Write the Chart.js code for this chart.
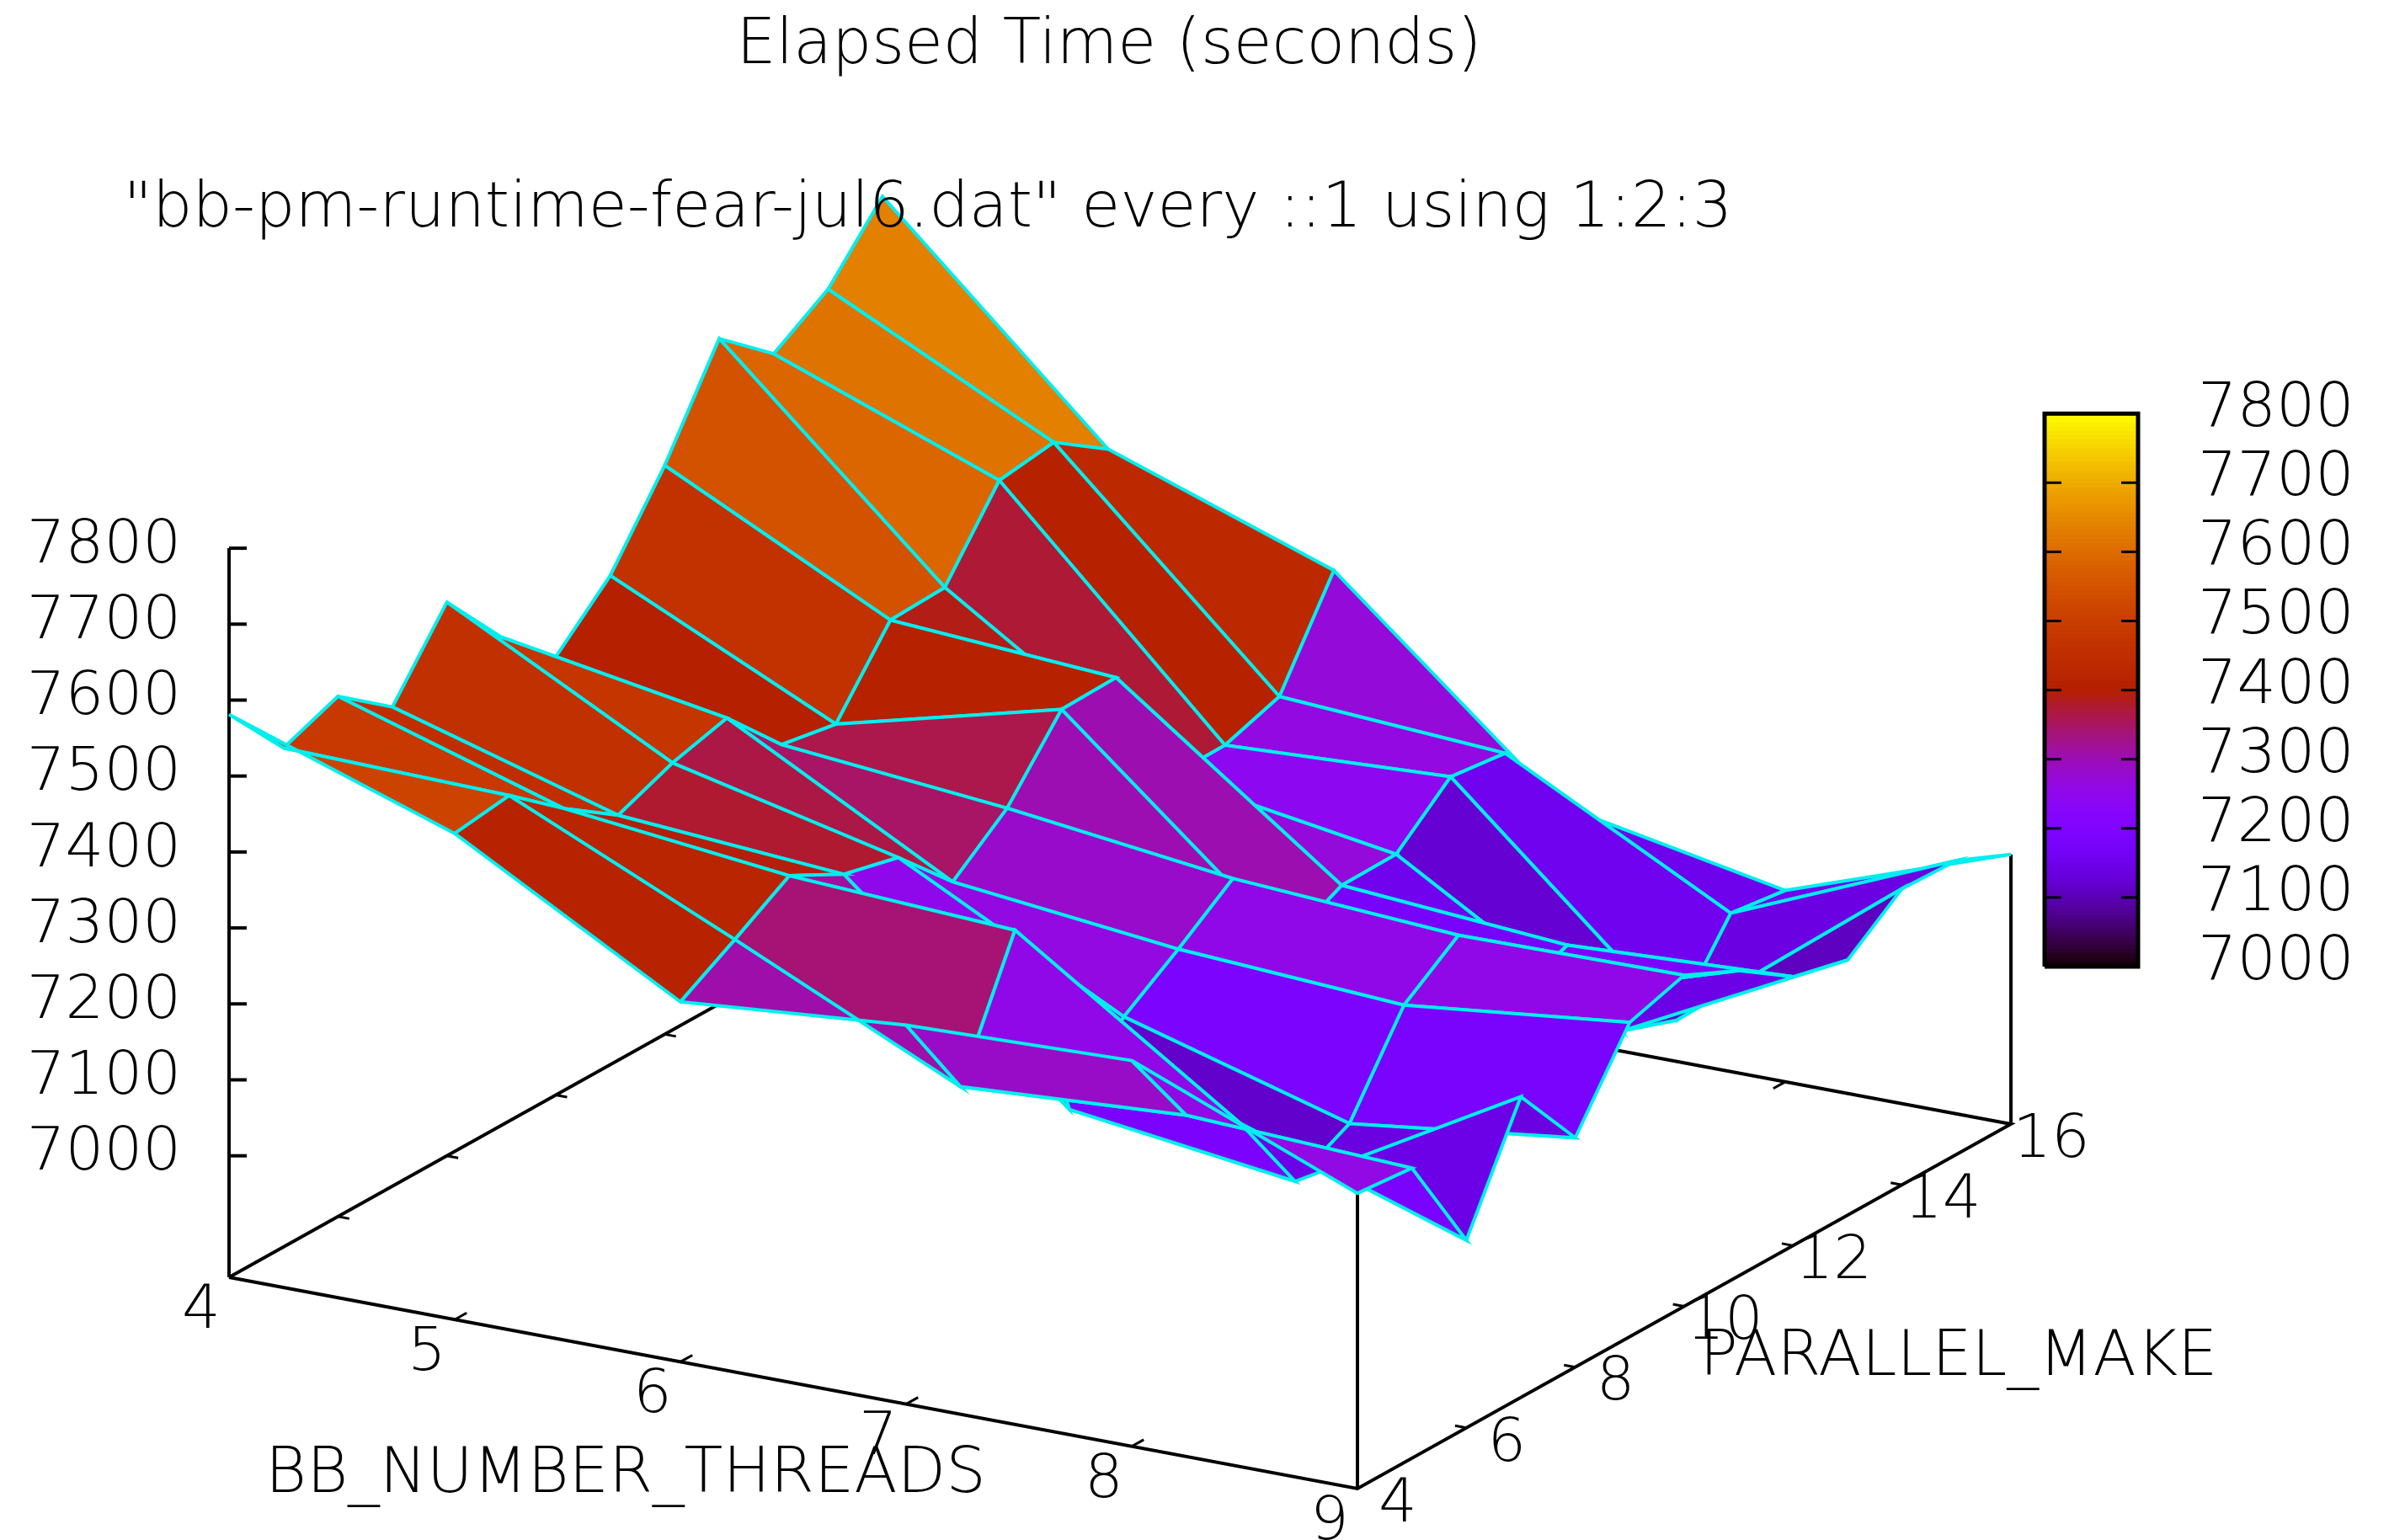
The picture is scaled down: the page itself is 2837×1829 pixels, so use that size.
<!DOCTYPE html>
<html>
<head>
<meta charset="utf-8">
<title>Elapsed Time (seconds)</title>
<script src="https://cdn.jsdelivr.net/npm/chart.js@4/dist/chart.umd.min.js"></script>
<style>
  html, body { margin: 0; padding: 0; background: #fff; }
  canvas { display: block; }
</style>
</head>
<body>
<canvas id="chart" width="2837" height="1829"></canvas>
<script>
const threads = [4, 5, 6, 7, 8, 9];
const makes = [4, 5, 6, 7, 8, 9, 10, 11, 12, 13, 14, 15, 16];

// elapsed seconds per BB_NUMBER_THREADS, one value per PARALLEL_MAKE
const elapsedThreads4 = [7581, 7497, 7525, 7471, 7569, 7483, 7417, 7484, 7589, 7716, 7656, 7701, 7783];
const elapsedThreads5 = [7480, 7490, 7433, 7384, 7413, 7432, 7357, 7344, 7441, 7444, 7545, 7555, 7506];
const elapsedThreads6 = [7314, 7356, 7400, 7362, 7344, 7272, 7329, 7419, 7421, 7251, 7252, 7276, 7402];
const elapsedThreads7 = [7339, 7218, 7384, 7108, 7190, 7239, 7292, 7167, 7203, 7204, 7266, 7257, 7149];
const elapsedThreads8 = [7348, 7236, 7185, 7069, 7105, 7221, 7273, 7150, 7180, 7027, 7001, 7102, 7092];
const elapsedThreads9 = [7229, 7222, 7087, 7236, 7142, 7254, 7276, 7242, 7194, 7176, 7230, 7227, 7195];
const elapsed = [elapsedThreads4, elapsedThreads5, elapsedThreads6, elapsedThreads7, elapsedThreads8, elapsedThreads9];

const threadTicks = [4, 5, 6, 7, 8, 9];
const makeTicks = [4, 6, 8, 10, 12, 14, 16];
const zTicks = [7000, 7100, 7200, 7300, 7400, 7500, 7600, 7700, 7800];

const titleText = 'Elapsed Time (seconds)';
const keyText = '"bb-pm-runtime-fear-jul6.dat" every ::1 using 1:2:3';
const threadsLabel = 'BB_NUMBER_THREADS';
const makeLabel = 'PARALLEL_MAKE';

// gnuplot style view: the page scales are plain pixels, this maps data to them
const view = { x0: 272, y0: 1517, tx: 268, ty: 50.2, px: 64.67, py: -36.08, zBase: 6840, zy: 0.902 };
const bar = { left: 2428, right: 2539, bottom: 1148, perUnit: 0.821, steps: 128 };

function project(t, p, z) {
    return {
        x: view.x0 + (t - 4) * view.tx + (p - 4) * view.px,
        y: view.y0 + (t - 4) * view.ty + (p - 4) * view.py - (z - view.zBase) * view.zy,
    };
}

// gnuplot default palette (rgbformulae 7,5,15)
function paletteColor(z) {
    const v = Math.min(1, Math.max(0, (z - 7000) / 800));
    const r = Math.round(255 * Math.sqrt(v));
    const g = Math.round(255 * v * v * v);
    const b = Math.round(255 * Math.max(0, Math.sin(2 * Math.PI * v)));
    return `rgb(${r},${g},${b})`;
}

const datasets = [];

function addLine(points, width) {
    datasets.push({
        data: points,
        showLine: true,
        borderColor: '#000',
        borderWidth: width,
        pointRadius: 0,
        fill: false,
    });
}

function addShape(points, color, edge, width) {
    datasets.push({
        data: points,
        showLine: true,
        borderColor: edge,
        borderWidth: width,
        backgroundColor: color,
        pointRadius: 0,
        fill: 'shape',
    });
}

// base of the box
const tMin = threads[0], tMax = threads[threads.length - 1];
const pMin = makes[0], pMax = makes[makes.length - 1];
addLine([project(tMin, pMin, view.zBase), project(tMax, pMin, view.zBase), project(tMax, pMax, view.zBase), project(tMin, pMax, view.zBase), project(tMin, pMin, view.zBase)], 4);

// z axis and the two verticals up to the surface
addLine([project(tMin, pMin, view.zBase), project(tMin, pMin, zTicks[zTicks.length - 1])], 4);
addLine([project(tMax, pMin, view.zBase), project(tMax, pMin, elapsedThreads9[0])], 4);
addLine([project(tMax, pMax, view.zBase), project(tMax, pMax, elapsedThreads9[12])], 4);

zTicks.forEach(z => {
    const a = project(tMin, pMin, z);
    addLine([a, { x: a.x + 21, y: a.y }], 4);
});
threadTicks.slice(1, -1).forEach(t => {
    const a = project(t, pMin, view.zBase), b = project(t, pMin + 0.22, view.zBase);
    addLine([a, b], 3);
    const c = project(t, pMax, view.zBase), d = project(t, pMax - 0.22, view.zBase);
    addLine([c, d], 3);
});
makeTicks.slice(1, -1).forEach(p => {
    const a = project(tMin, p, view.zBase), b = project(tMin + 0.05, p, view.zBase);
    addLine([a, b], 3);
    const c = project(tMax, p, view.zBase), d = project(tMax - 0.05, p, view.zBase);
    addLine([c, d], 3);
});

// surface facets, far to near
for (let j = makes.length - 2; j >= 0; j--) {
    for (let i = 0; i < threads.length - 1; i++) {
        const corners = [[i, j], [i + 1, j], [i + 1, j + 1], [i, j + 1]];
        const pts = corners.map(([a, b]) => project(threads[a], makes[b], elapsed[a][b]));
        pts.push(pts[0]);
        const mean = corners.reduce((s, [a, b]) => s + elapsed[a][b], 0) / 4;
        addShape(pts, paletteColor(mean), '#00eeee', 4);
    }
}

// colour box
function barY(z) {
    return bar.bottom - (z - zTicks[0]) * bar.perUnit;
}
const zTop = zTicks[zTicks.length - 1];
for (let s = 0; s < bar.steps; s++) {
    const lo = zTicks[0] + (zTop - zTicks[0]) * s / bar.steps;
    const hi = zTicks[0] + (zTop - zTicks[0]) * (s + 1.5) / bar.steps;
    const y0 = barY(lo), y1 = barY(Math.min(hi, zTop));
    const c = paletteColor(lo + (zTop - zTicks[0]) * 0.5 / bar.steps);
    addShape([{ x: bar.left, y: y0 }, { x: bar.right, y: y0 }, { x: bar.right, y: y1 }, { x: bar.left, y: y1 }, { x: bar.left, y: y0 }], c, c, 0);
}
zTicks.slice(1, -1).forEach(z => {
    addLine([{ x: bar.left, y: barY(z) }, { x: bar.left + 20, y: barY(z) }], 3);
    addLine([{ x: bar.right, y: barY(z) }, { x: bar.right - 20, y: barY(z) }], 3);
});
addLine([{ x: bar.left, y: bar.bottom }, { x: bar.right, y: bar.bottom }, { x: bar.right, y: barY(zTop) }, { x: bar.left, y: barY(zTop) }, { x: bar.left, y: bar.bottom }], 5);

// first drawn gets the highest order
datasets.forEach((d, i) => { d.order = datasets.length - i; });

const FONT = '"DejaVu Sans"';

const labelsPlugin = {
    id: 'labels',
    afterDraw(chart) {
        const ctx = chart.ctx;
        const sx = chart.scales.x, sy = chart.scales.y;
        const put = (text, x, y, size, align) => {
            ctx.font = `200 ${size}px ${FONT}`;
            ctx.textAlign = align || 'center';
            ctx.textBaseline = 'middle';
            ctx.fillStyle = '#000';
            ctx.fillText(text, sx.getPixelForValue(x), sy.getPixelForValue(y));
        };
        ctx.save();
        put(titleText, 1317, 56, 74.5);
        put(keyText, 1102, 250, 74.8);
        zTicks.forEach(z => {
            const a = project(tMin, pMin, z);
            put(String(z), a.x - 57, a.y - 2, 72, 'right');
            put(String(z), bar.right + 71, barY(z) - 4, 73, 'left');
        });
        threadTicks.forEach(t => {
            const a = project(t, pMin, view.zBase);
            put(String(t), a.x - 33, a.y + 41, 72);
        });
        makeTicks.forEach(p => {
            const a = project(tMax, p, view.zBase);
            put(String(p), a.x + 48, a.y + 20, 72);
        });
        put(threadsLabel, 743, 1753, 75);
        put(makeLabel, 2326, 1614, 75);
        ctx.restore();
    },
};

new Chart(document.getElementById('chart'), {
    type: 'scatter',
    data: { datasets },
    plugins: [labelsPlugin],
    options: {
        responsive: false,
        animation: false,
        layout: { padding: 0 },
        elements: { line: { tension: 0, borderCapStyle: 'butt', borderJoinStyle: 'miter' } },
        plugins: { legend: { display: false }, title: { display: false }, tooltip: { enabled: false } },
        scales: {
            x: { type: 'linear', min: 0, max: 2837, display: false },
            y: { type: 'linear', min: 0, max: 1829, reverse: true, display: false },
        },
    },
});
</script>
</body>
</html>
